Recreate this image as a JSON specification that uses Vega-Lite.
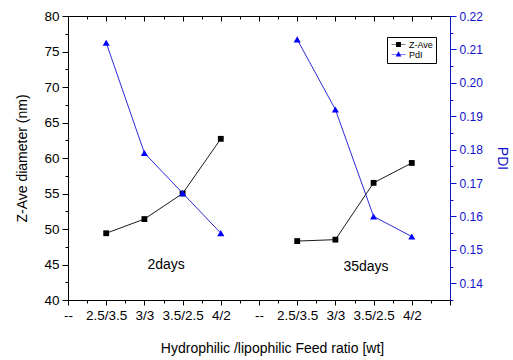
{
  "$schema": "https://vega.github.io/schema/vega-lite/v6.json",
  "width": 382,
  "height": 284,
  "autosize": "none",
  "padding": {"left": 68, "top": 16, "right": 63, "bottom": 60},
  "background": "white",
  "config": {
    "font": "Liberation Sans",
    "view": {"stroke": "black", "strokeWidth": 1},
    "axis": {"grid": false, "domainColor": "black", "tickColor": "black", "labelColor": "black", "titleColor": "black", "titleFontWeight": "normal", "labelOverlap": false, "labelFlush": false}
  },
  "datasets": {
    "main": [
      {"pos": 1, "group": "2days", "series": "Z-Ave", "value": 49.4},
      {"pos": 2, "group": "2days", "series": "Z-Ave", "value": 51.4},
      {"pos": 3, "group": "2days", "series": "Z-Ave", "value": 55.0},
      {"pos": 4, "group": "2days", "series": "Z-Ave", "value": 62.7},
      {"pos": 6, "group": "35days", "series": "Z-Ave", "value": 48.3},
      {"pos": 7, "group": "35days", "series": "Z-Ave", "value": 48.5},
      {"pos": 8, "group": "35days", "series": "Z-Ave", "value": 56.5},
      {"pos": 9, "group": "35days", "series": "Z-Ave", "value": 59.3},
      {"pos": 1, "group": "2days", "series": "PdI", "value": 0.212},
      {"pos": 2, "group": "2days", "series": "PdI", "value": 0.179},
      {"pos": 3, "group": "2days", "series": "PdI", "value": 0.167},
      {"pos": 4, "group": "2days", "series": "PdI", "value": 0.155},
      {"pos": 6, "group": "35days", "series": "PdI", "value": 0.213},
      {"pos": 7, "group": "35days", "series": "PdI", "value": 0.192},
      {"pos": 8, "group": "35days", "series": "PdI", "value": 0.160},
      {"pos": 9, "group": "35days", "series": "PdI", "value": 0.154}
    ],
    "notes": [
      {"pos": 2.57, "value": 44.9, "label": "2days"},
      {"pos": 7.8, "value": 44.6, "label": "35days"}
    ]
  },
  "layer": [
    {
      "data": {"name": "main"},
      "transform": [{"filter": "datum.series === 'Z-Ave'"}],
      "mark": {"type": "line", "color": "#1a1a1a", "strokeWidth": 1},
      "encoding": {
        "x": {"field": "pos", "type": "quantitative", "scale": {"domain": [0, 10], "nice": false, "zero": false},
          "axis": {"orient": "bottom", "title": "Hydrophilic /lipophilic Feed ratio [wt]", "titleFontSize": 14, "titlePadding": 20, "titleX": 204,
            "values": [0,0.5,1,1.5,2,2.5,3,3.5,4,4.5,5,5.5,6,6.5,7,7.5,8,8.5,9,9.5,10],
            "labelExpr": "datum.value % 1 !== 0 ? '' : ['--','2.5/3.5','3/3','3.5/2.5','4/2','--','2.5/3.5','3/3','3.5/2.5','4/2',''][datum.value]",
            "labelFontSize": 13.5, "labelPadding": 3, "labelAngle": 0,
            "tickSize": {"condition": {"test": "datum.value % 1 === 0", "value": 5}, "value": 3}}},
        "y": {"field": "value", "type": "quantitative", "scale": {"domain": [40, 80], "nice": false, "zero": false},
          "axis": {"orient": "left", "title": "Z-Ave diameter (nm)", "titleFontSize": 14, "titlePadding": 14,
            "values": [40,42.5,45,47.5,50,52.5,55,57.5,60,62.5,65,67.5,70,72.5,75,77.5,80],
            "labelExpr": "datum.value % 5 === 0 ? datum.label : ''",
            "labelFontSize": 13.5, "labelPadding": 3,
            "tickSize": {"condition": {"test": "datum.value % 5 === 0", "value": 6}, "value": 3}}},
        "detail": {"field": "group"}
      }
    },
    {
      "data": {"name": "main"},
      "transform": [{"filter": "datum.series === 'Z-Ave'"}],
      "mark": {"type": "point", "shape": "square", "filled": true, "size": 34, "color": "black", "opacity": 1},
      "encoding": {
        "x": {"field": "pos", "type": "quantitative", "scale": {"domain": [0, 10], "nice": false, "zero": false}, "axis": null},
        "y": {"field": "value", "type": "quantitative", "scale": {"domain": [40, 80], "nice": false, "zero": false}, "axis": null}
      }
    },
    {
      "data": {"name": "notes"},
      "mark": {"type": "text", "fontSize": 14, "color": "black", "align": "center", "baseline": "middle"},
      "encoding": {
        "x": {"field": "pos", "type": "quantitative", "scale": {"domain": [0, 10], "nice": false, "zero": false}, "axis": null},
        "y": {"field": "value", "type": "quantitative", "scale": {"domain": [40, 80], "nice": false, "zero": false}, "axis": null},
        "text": {"field": "label"}
      }
    },
    {
      "data": {"name": "main"},
      "transform": [{"filter": "datum.series === 'PdI'"}],
      "mark": {"type": "line", "color": "#2b2bd9", "strokeWidth": 1},
      "encoding": {
        "x": {"field": "pos", "type": "quantitative", "scale": {"domain": [0, 10], "nice": false, "zero": false}, "axis": null},
        "y": {"field": "value", "type": "quantitative", "scale": {"domain": [0.135, 0.22], "nice": false, "zero": false},
          "axis": {"orient": "right", "title": "PDI", "titleFontSize": 14, "titleColor": "#1010d0", "titlePadding": 12,
            "domainColor": "#1010d0", "tickColor": "#1010d0", "labelColor": "#1010d0",
            "values": [0.135,0.14,0.145,0.15,0.155,0.16,0.165,0.17,0.175,0.18,0.185,0.19,0.195,0.2,0.205,0.21,0.215,0.22],
            "labelExpr": "round(datum.value*1000) % 10 === 0 ? format(datum.value, '.2f') : ''",
            "labelFontSize": 12, "labelPadding": 3,
            "tickSize": {"condition": {"test": "round(datum.value*1000) % 10 === 0", "value": 6}, "value": 3}}},
        "detail": {"field": "group"}
      }
    },
    {
      "data": {"name": "main"},
      "transform": [{"filter": "datum.series === 'PdI'"}],
      "mark": {"type": "point", "shape": "triangle-up", "filled": true, "size": 50, "color": "blue", "opacity": 1},
      "encoding": {
        "x": {"field": "pos", "type": "quantitative", "scale": {"domain": [0, 10], "nice": false, "zero": false}, "axis": null},
        "y": {"field": "value", "type": "quantitative", "scale": {"domain": [0.135, 0.22], "nice": false, "zero": false}, "axis": null}
      }
    },
    {
      "data": {"name": "main"},
      "mark": {"type": "point", "filled": true, "opacity": 0},
      "encoding": {
        "x": {"field": "pos", "type": "quantitative", "scale": {"domain": [0, 10], "nice": false, "zero": false},
          "axis": {"orient": "top", "title": null, "labels": false,
            "values": [0.5,1,1.5,2,2.5,3,3.5,4,4.5,5,5.5,6,6.5,7,7.5,8,8.5,9,9.5],
            "tickSize": {"condition": {"test": "datum.value % 1 === 0", "value": -5}, "value": -3}}},
        "y": {"field": "value", "type": "quantitative", "scale": {"domain": [0, 1]}, "axis": null},
        "color": {"field": "series", "type": "nominal", "scale": {"domain": ["Z-Ave", "PdI"], "range": ["black", "blue"]},
          "legend": {"orient": "none", "legendX": 319, "legendY": 21, "title": null, "labelFontSize": 9, "padding": 3, "strokeColor": "black", "fillColor": "white", "symbolSize": 49, "symbolOpacity": 1, "symbolOffset": 4, "labelOffset": 6, "rowPadding": 0, "symbolStrokeWidth": 0}},
        "shape": {"field": "series", "type": "nominal", "scale": {"domain": ["Z-Ave", "PdI"], "range": ["M-2,-0.1H2V0.1H-2Z M-0.7,-0.7H0.7V0.7H-0.7Z", "M-2,-0.1H2V0.1H-2Z M0,-0.9L0.8,0.6H-0.8Z"]},
          "legend": {"orient": "none", "legendX": 319, "legendY": 21, "title": null, "labelFontSize": 9, "padding": 3, "strokeColor": "black", "fillColor": "white", "symbolSize": 49, "symbolOpacity": 1, "symbolOffset": 4, "labelOffset": 6, "rowPadding": 0, "symbolStrokeWidth": 0}}
      }
    }
  ],
  "resolve": {"scale": {"y": "independent"}}
}
